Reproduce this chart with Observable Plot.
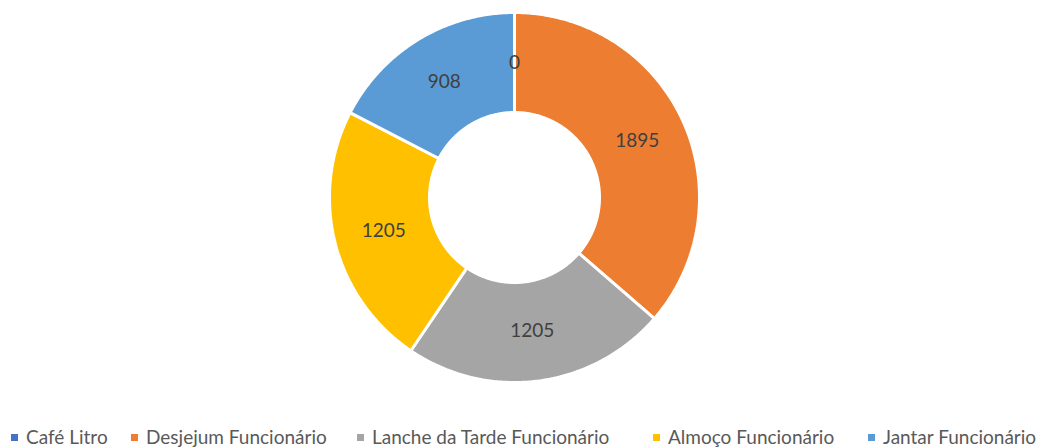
<!DOCTYPE html>
<html>
<head>
<meta charset="utf-8">
<script src="https://cdn.jsdelivr.net/npm/d3@7"></script>
<script src="https://cdn.jsdelivr.net/npm/@observablehq/plot@0.6"></script>
<style>
  html, body { margin: 0; padding: 0; background: #fff; }
  #chart { width: 1045px; height: 448px; position: relative; overflow: hidden; }
  #legend { position: absolute; left: 0; top: 427px; width: 1045px; height: 21px;
    font-family: Lato, "Liberation Sans", sans-serif; font-size: 19px; line-height: 19px; color: #595959; white-space: nowrap; }
  .item { position: absolute; top: 0; display: flex; align-items: center; }
  .sw { width: 7px; height: 7px; margin-right: 8px; margin-top: 2px; }
</style>
</head>
<body>
<div id="chart"></div>
<script>
const categories = ["Café Litro", "Desjejum Funcionário", "Lanche da Tarde Funcionário", "Almoço Funcionário", "Jantar Funcionário"];
const values = [0, 1895, 1205, 1205, 908];
const colors = ["#4472C4", "#ED7D31", "#A5A5A5", "#FFC000", "#5B9BD5"];

const W = 1045, H = 410, cx = 514, cy = 197, rOuter = 185, rInner = 85;
const legendX = [11, 131, 357, 653, 868];
const data = categories.map((c, i) => ({category: c, value: values[i]}));
const arcs = d3.pie().sort(null).value(d => d.value)(data);

const pt = (a, r) => [cx + r * Math.sin(a), cy - r * Math.cos(a)];
const poly = [];
for (const a of arcs) {
  if (a.endAngle - a.startAngle <= 0) continue;
  const n = Math.max(2, Math.ceil((a.endAngle - a.startAngle) / 0.01));
  const pts = [];
  for (let k = 0; k <= n; k++) pts.push(pt(a.startAngle + (a.endAngle - a.startAngle) * k / n, rOuter));
  for (let k = n; k >= 0; k--) pts.push(pt(a.startAngle + (a.endAngle - a.startAngle) * k / n, rInner));
  pts.push(pts[0]);
  for (const [x, y] of pts) poly.push({category: a.data.category, x, y});
}
const labels = arcs.map(a => {
  const m = (a.startAngle + a.endAngle) / 2;
  const [x, y] = pt(m, (rOuter + rInner) / 2);
  return {x, y, text: String(a.data.value)};
});

const chart = Plot.plot({
  width: W, height: H,
  margin: 0,
  style: {background: "#fff", fontFamily: "Lato, 'Liberation Sans', sans-serif"},
  x: {domain: [0, W], range: [0, W], axis: null},
  y: {domain: [0, H], range: [0, H], axis: null},
  color: {domain: categories, range: colors},
  marks: [
    Plot.line(poly, {x: "x", y: "y", z: "category", fill: "category", stroke: "#fff", strokeWidth: 3, strokeLinejoin: "miter", curve: "linear"}),
    Plot.text(labels, {x: "x", y: "y", text: "text", fontSize: 19, fill: "#404040"})
  ]
});
document.getElementById("chart").appendChild(chart);

const legend = document.createElement("div");
legend.id = "legend";
categories.forEach((c, i) => {
  const it = document.createElement("div");
  it.className = "item";
  it.style.left = legendX[i] + "px";
  const sw = document.createElement("span");
  sw.className = "sw";
  sw.style.background = colors[i];
  const t = document.createElement("span");
  t.textContent = c;
  it.appendChild(sw); it.appendChild(t);
  legend.appendChild(it);
});
document.getElementById("chart").appendChild(legend);
</script>
</body>
</html>
